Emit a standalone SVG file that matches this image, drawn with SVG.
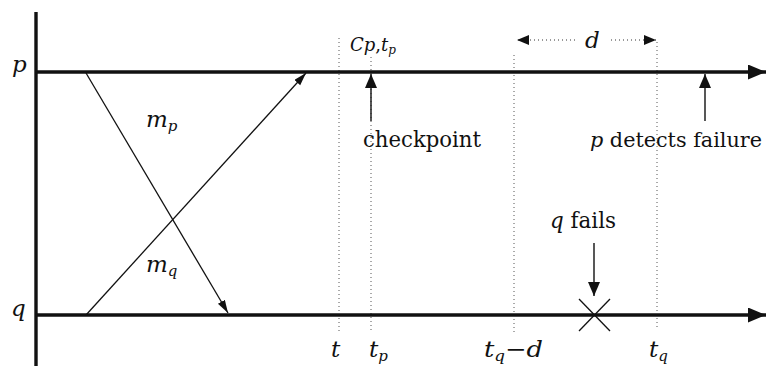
<svg xmlns="http://www.w3.org/2000/svg" width="768" height="366" viewBox="0 0 768 366">
<style>
.txt{font-family:"DejaVu Serif","Liberation Serif",serif;font-size:22px;fill:#111}
.m{font-style:italic}
.mm{font-size:23px}
.sub{font-size:15px}
.axis{stroke:#111;stroke-width:3.4;fill:none}
.msg{stroke:#111;stroke-width:1.3;fill:none}
.ptr{stroke:#111;stroke-width:1.4;fill:none}
.dot{stroke:#555;stroke-width:1;stroke-dasharray:1 3;fill:none}
.ddot{stroke:#333;stroke-width:1;stroke-dasharray:1 3;fill:none}
</style>
<defs>
<marker id="big" markerUnits="userSpaceOnUse" markerWidth="19" markerHeight="16" refX="18" refY="7.5" orient="auto"><path d="M0,0 L18,7.5 L0,15 z" fill="#111"/></marker>
<marker id="small" markerUnits="userSpaceOnUse" markerWidth="15" markerHeight="13" refX="14" refY="6" orient="auto"><path d="M0,0 L14,6 L0,12 z" fill="#111"/></marker>
<marker id="msgh" markerUnits="userSpaceOnUse" markerWidth="14" markerHeight="9" refX="13" refY="4" orient="auto"><path d="M0,0 L13,4 L0,8 z" fill="#111"/></marker>
<marker id="dh" markerUnits="userSpaceOnUse" markerWidth="13" markerHeight="11" refX="12" refY="5" orient="auto"><path d="M0,0 L12,5 L0,10 z" fill="#111"/></marker>
</defs>

<g id="guides">
<line class="dot" x1="339" y1="38" x2="339" y2="332"/>
<line class="dot" x1="371" y1="57" x2="371" y2="332"/>
<line class="dot" x1="514" y1="55" x2="514" y2="332"/>
<line class="dot" x1="657" y1="42" x2="657" y2="330"/>
</g>

<g id="time-axis">
<line class="axis" x1="36" y1="12" x2="36" y2="366"/>
</g>

<g id="process-p">
<line class="axis" x1="36" y1="72" x2="766" y2="72" marker-end="url(#big)"/>
<text class="txt mm m" x="12" y="72">p</text>
</g>

<g id="process-q">
<line class="axis" x1="36" y1="315" x2="766" y2="315" marker-end="url(#big)"/>
<text class="txt mm m" x="11" y="316">q</text>
</g>

<g id="connectors">
<line class="msg" x1="86" y1="73" x2="228" y2="313" marker-end="url(#msgh)"/>
<line class="msg" x1="86" y1="315" x2="306" y2="73" marker-end="url(#msgh)"/>
<line class="ptr" x1="371" y1="121" x2="371" y2="74" marker-end="url(#small)"/>
<line class="ptr" x1="705" y1="121" x2="705" y2="74" marker-end="url(#small)"/>
<line class="ptr" x1="594" y1="243" x2="594" y2="296" marker-end="url(#small)"/>
<line class="ddot" x1="575" y1="40" x2="517" y2="40" marker-end="url(#dh)"/>
<line class="ddot" x1="611" y1="40" x2="656" y2="40" marker-end="url(#dh)"/>
</g>

<g id="label-mp"><text class="txt mm m" x="146" y="127">m<tspan class="sub" dy="4">p</tspan></text></g>
<g id="label-mq"><text class="txt mm m" x="146" y="272">m<tspan class="sub" dy="4">q</tspan></text></g>

<g id="checkpoint">
<text class="txt" style="font-size:18px" x="350" y="51"><tspan class="m">C</tspan><tspan class="m">p</tspan>,<tspan class="m">t</tspan><tspan class="m" style="font-size:12px" dy="3">p</tspan></text>
<text class="txt" x="363" y="147" textLength="118" lengthAdjust="spacingAndGlyphs">checkpoint</text>
</g>

<g id="detects">
<text class="txt" style="font-size:19.5px" x="590" y="147" textLength="172" lengthAdjust="spacingAndGlyphs"><tspan class="m">p</tspan> detects failure</text>
</g>

<g id="d-label"><text class="txt mm m" x="585" y="48">d</text></g>

<g id="failure">
<text class="txt" x="550" y="228" textLength="66" lengthAdjust="spacingAndGlyphs"><tspan class="m">q</tspan> fails</text>
<line class="msg" x1="579" y1="299" x2="610" y2="331"/>
<line class="msg" x1="579" y1="331" x2="610" y2="299"/>
</g>

<g id="time-labels">
<text class="txt mm m" x="331" y="357">t</text>
<text class="txt mm m" x="369" y="357">t<tspan class="sub" dy="4">p</tspan></text>
<text class="txt mm m" x="484" y="357" textLength="59" lengthAdjust="spacingAndGlyphs">t<tspan class="sub" dy="4">q</tspan><tspan dy="-4" style="font-style:normal">−</tspan>d</text>
<text class="txt mm m" x="649" y="357">t<tspan class="sub" dy="4">q</tspan></text>
</g>
</svg>
